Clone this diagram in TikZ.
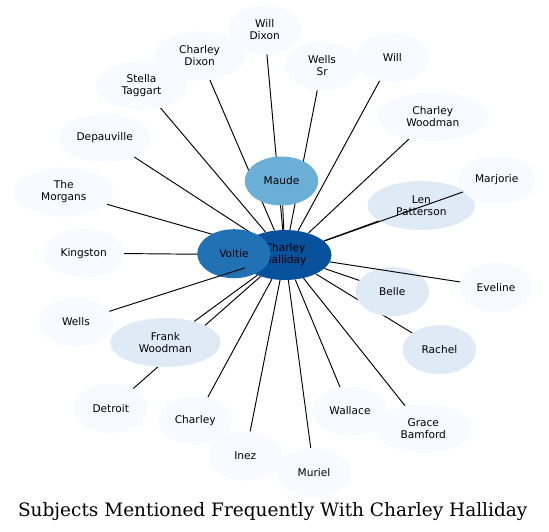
\documentclass[tikz,border=0pt]{standalone}
\usepackage{fontspec}
\setmainfont{DejaVu Sans}
\newfontfamily\titlefont{DejaVu Serif}
\usetikzlibrary{shapes.geometric}
\pgfdeclarelayer{background}
\pgfdeclarelayer{foreground}
\pgfsetlayers{background,main,foreground}
\definecolor{bl0}{HTML}{F7FBFF}
\definecolor{bl1}{HTML}{DEEBF7}
\definecolor{bl4}{HTML}{6BAED6}
\definecolor{bl6}{HTML}{2171B5}
\definecolor{bl7}{HTML}{08519C}
\tikzset{
  nd/.style={ellipse, inner sep=0pt, draw=none, align=center, text=black,
    font=\fontsize{10.6}{12}\selectfont, minimum height=49pt, minimum width=73.5pt},
  wd/.style={minimum width=#1pt},
  lite/.style={nd, fill=bl0},
  pale/.style={nd, fill=bl1},
  link/.style={draw=black, line width=0.95pt}
}
\begin{document}
\begin{tikzpicture}[x=1pt,y=-1pt]
\useasboundingbox (0,0) rectangle (549,532);
\begin{pgfonlayer}{background}
\fill[white] (0,0) rectangle (549,532);
\end{pgfonlayer}
% central nodes
\node[nd, fill=bl7, minimum width=93pt, minimum height=50pt] (H) at (285,255) {Charley\\Halliday};
\node[nd, fill=bl6] (voltie) at (234,253.7) {Voltie};
\node[nd, fill=bl4] (maude) at (281.5,181) {Maude};
\node[pale, wd=107.4] (len) at (421.3,205.5) {Len\\Patterson};
\node[pale] (belle) at (392.3,291.7) {Belle};
\node[pale] (rachel) at (439.4,349.7) {Rachel};
\node[pale, wd=110.4] (frank) at (165.4,342.5) {Frank\\Woodman};
% light nodes
\node[lite] (willdixon) at (264.7,29.7) {Will\\Dixon};
\node[lite, wd=91] (cdixon) at (199.6,56) {Charley\\Dixon};
\node[lite, wd=90.4] (stella) at (141.5,85.5) {Stella\\Taggart};
\node[lite] (wellssr) at (322.1,65.8) {Wells\\Sr};
\node[lite] (will) at (392.3,57.5) {Will};
\node[lite, wd=111] (cwoodman) at (432.8,116.7) {Charley\\Woodman};
\node[lite, wd=91.8] (depau) at (104.7,137.8) {Depauville};
\node[lite, wd=76.6] (marjorie) at (496.7,180) {Marjorie};
\node[lite, wd=99] (morgans) at (63.8,192) {The\\Morgans};
\node[lite, wd=80.6] (kingston) at (83.7,253.2) {Kingston};
\node[lite] (eveline) at (496,287.5) {Eveline};
\node[lite] (wells) at (76,322) {Wells};
\node[lite] (detroit) at (110.8,408.3) {Detroit};
\node[lite] (charley) at (195.2,420.5) {Charley};
\node[lite] (inez) at (245.3,456) {Inez};
\node[lite] (muriel) at (314,472.5) {Muriel};
\node[lite, wd=75] (wallace) at (350,411) {Wallace};
\node[lite, wd=97.4] (grace) at (423.3,428.7) {Grace\\Bamford};
% edges beneath nodes
\begin{pgfonlayer}{background}
\foreach \n in {maude,len,belle,rachel,frank,willdixon,cdixon,stella,wellssr,will,cwoodman,depau,morgans,kingston,detroit,charley,inez,muriel,wallace,grace}
  \draw[link] (\n) -- (H);
\end{pgfonlayer}
% edges drawn over nodes
\begin{pgfonlayer}{foreground}
\foreach \n in {wells,marjorie,eveline}
  \draw[link] (\n) -- (H);
\end{pgfonlayer}
\node (title) at (272.7,512) {\titlefont\fontsize{18.5}{21}\selectfont Subjects Mentioned Frequently With Charley Halliday};
\end{tikzpicture}
\end{document}
